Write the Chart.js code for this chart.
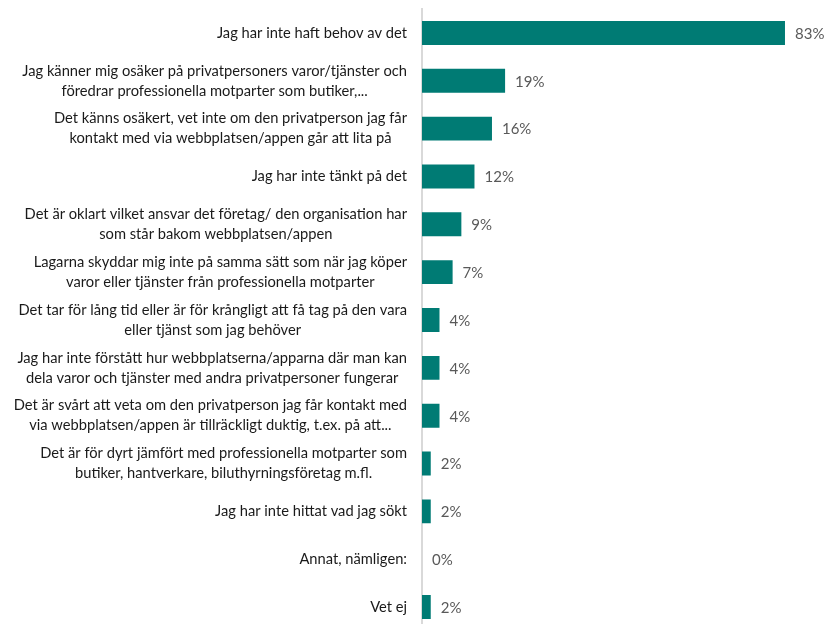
<!DOCTYPE html>
<html>
<head>
<meta charset="utf-8">
<script src="https://cdn.jsdelivr.net/npm/chart.js@4"></script>
<style>
  html, body { margin: 0; padding: 0; background: #fff; overflow: hidden; }
  canvas { display: block; }
</style>
</head>
<body>
<canvas id="chart" width="827" height="640"></canvas>
<script>
// Svarsalternativ (radbrytningar som i rapporten)
const categories = [
  ['Jag har inte haft behov av det'],
  ['Jag känner mig osäker på privatpersoners varor/tjänster och', 'föredrar professionella motparter som butiker,...'],
  ['Det känns osäkert, vet inte om den privatperson jag får', 'kontakt med via webbplatsen/appen går att lita på'],
  ['Jag har inte tänkt på det'],
  ['Det är oklart vilket ansvar det företag/ den organisation har', 'som står bakom webbplatsen/appen'],
  ['Lagarna skyddar mig inte på samma sätt som när jag köper', 'varor eller tjänster från professionella motparter'],
  ['Det tar för lång tid eller är för krångligt att få tag på den vara', 'eller tjänst som jag behöver'],
  ['Jag har inte förstått hur webbplatserna/apparna där man kan', 'dela varor och tjänster med andra privatpersoner fungerar'],
  ['Det är svårt att veta om den privatperson jag får kontakt med', 'via webbplatsen/appen är tillräckligt duktig, t.ex. på att...'],
  ['Det är för dyrt jämfört med professionella motparter som', 'butiker, hantverkare, biluthyrningsföretag m.fl.'],
  ['Jag har inte hittat vad jag sökt'],
  ['Annat, nämligen:'],
  ['Vet ej']
];

// Andel (%)
const values = [83, 19, 16, 12, 9, 7, 4, 4, 4, 2, 2, 0, 2];

const BAR_COLOR = '#007B74';
const LABEL_FONT = '14.7px Lato, "Open Sans", sans-serif';
const VALUE_FONT = '15px Lato, "Open Sans", sans-serif';

// Kategoritexter: högerställt block, raderna centrerade inom blocket
const categoryLabels = {
  id: 'categoryLabels',
  afterDraw(chart) {
    const { ctx, scales: { y } } = chart;
    ctx.save();
    ctx.font = LABEL_FONT;
    ctx.fillStyle = '#1a1a1a';
    ctx.textAlign = 'center';
    ctx.textBaseline = 'middle';
    const rightEdge = 407;
    const lineH = 20;
    categories.forEach((lines, i) => {
      const yc = y.getPixelForValue(i);
      const w = Math.max(...lines.map(l => ctx.measureText(l).width));
      const cx = rightEdge - w / 2;
      const y0 = yc - (lines.length - 1) * lineH / 2;
      lines.forEach((l, j) => ctx.fillText(l, cx, y0 + j * lineH));
    });
    ctx.restore();
  }
};

// Procentsatser till höger om staplarna
const valueLabels = {
  id: 'valueLabels',
  afterDatasetsDraw(chart) {
    const { ctx, scales: { x, y } } = chart;
    ctx.save();
    ctx.font = VALUE_FONT;
    ctx.fillStyle = '#595959';
    ctx.textAlign = 'left';
    ctx.textBaseline = 'middle';
    values.forEach((v, i) => {
      ctx.fillText(v + '%', x.getPixelForValue(v) + 10, y.getPixelForValue(i) + 1);
    });
    ctx.restore();
  }
};

new Chart(document.getElementById('chart'), {
  type: 'bar',
  data: {
    labels: categories,
    datasets: [{
      data: values,
      backgroundColor: BAR_COLOR,
      borderWidth: 0,
      barPercentage: 0.5,
      categoryPercentage: 1
    }]
  },
  options: {
    indexAxis: 'y',
    responsive: false,
    animation: false,
    layout: { padding: { left: 422, right: 11.4, top: 9, bottom: 9 } },
    plugins: {
      legend: { display: false },
      tooltip: { enabled: false }
    },
    scales: {
      x: { display: false, min: 0, max: 90 },
      y: {
        ticks: { display: false },
        grid: { display: false },
        border: { display: true, color: '#d9d9d9', width: 2 },
        afterFit(scale) { scale.width = 0; }
      }
    }
  },
  plugins: [categoryLabels, valueLabels]
});
</script>
</body>
</html>
